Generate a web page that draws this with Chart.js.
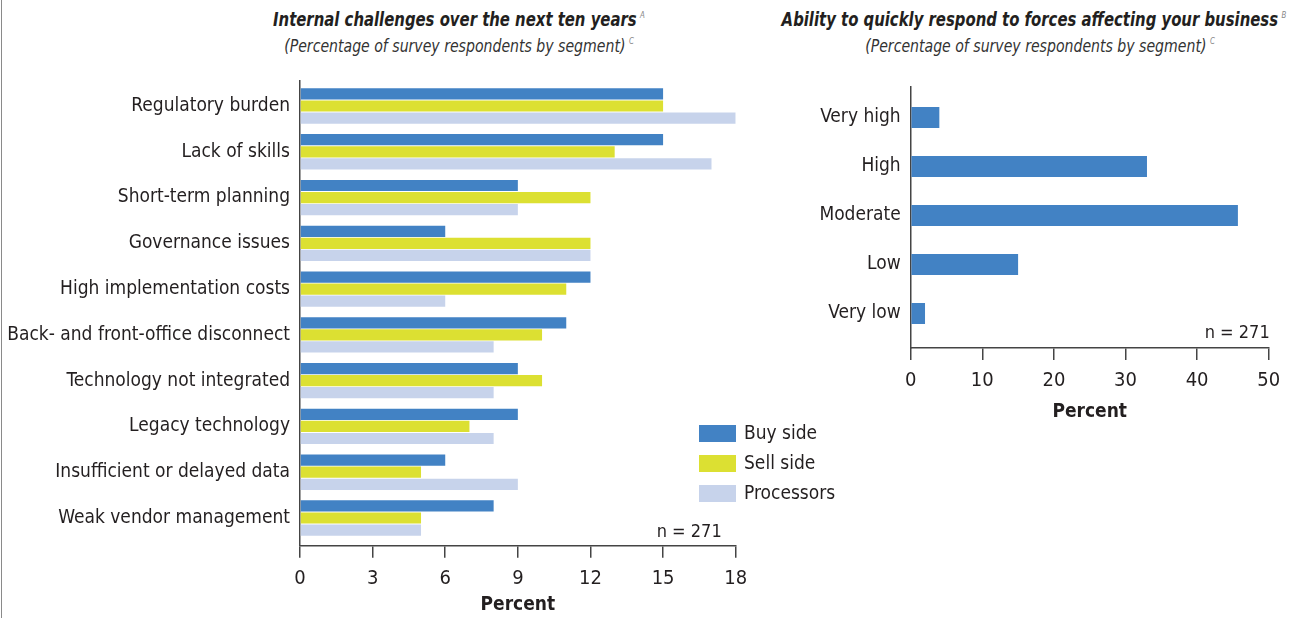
<!DOCTYPE html>
<html>
<head>
<meta charset="utf-8">
<script src="https://cdn.jsdelivr.net/npm/chart.js@4.4.1/dist/chart.umd.min.js"></script>
<style>
  html, body { margin: 0; padding: 0; background: #fff; }
  body { width: 1309px; height: 618px; position: relative; overflow: hidden;
         font-family: 'Liberation Sans Narrow', 'DejaVu Sans Condensed', sans-serif; color: #231f20; }
  .edge { position: absolute; left: 1px; top: 0; width: 1px; height: 618px; background: #8a8a8a; }
  .title { position: absolute; text-align: center; font-weight: bold; font-style: italic;
           font-size: 19px; line-height: 22px; white-space: nowrap; transform: scaleX(0.87); }
  .sub { position: absolute; text-align: center; font-style: italic; font-size: 18px;
         line-height: 22px; color: #333; white-space: nowrap; transform: scaleX(0.87); }
  sup { font-size: 9px; font-weight: normal; color: #888; vertical-align: 8px; margin-left: 4px; }
  canvas { position: absolute; top: 0; }
</style>
</head>
<body>
<div class="edge"></div>
<div class="title" style="left:209px; top:4px; width:500px;">Internal challenges over the next ten years<sup>A</sup></div>
<div class="sub" style="left:209px; top:30px; width:500px;">(Percentage of survey respondents by segment)<sup>C</sup></div>
<div class="title" style="left:734px; top:4px; width:600px;">Ability to quickly respond to forces affecting your business<sup>B</sup></div>
<div class="sub" style="left:790px; top:30px; width:500px;">(Percentage of survey respondents by segment)<sup>C</sup></div>
<canvas id="challenges" width="860" height="618" style="left:0; width:860px; height:618px;"></canvas>
<canvas id="ability" width="539" height="430" style="left:770px; width:539px; height:430px;"></canvas>
<script>
var categories = ['Regulatory burden', 'Lack of skills', 'Short-term planning', 'Governance issues',
    'High implementation costs', 'Back- and front-office disconnect', 'Technology not integrated',
    'Legacy technology', 'Insufficient or delayed data', 'Weak vendor management'];
var buySide = [15, 15, 9, 6, 12, 11, 9, 9, 6, 8];
var sellSide = [15, 13, 12, 12, 11, 10, 10, 7, 5, 5];
var processors = [18, 17, 9, 12, 6, 8, 8, 8, 9, 5];
var seriesNames = ['Buy side', 'Sell side', 'Processors'];
var percentTicks = [0, 3, 6, 9, 12, 15, 18];

var levels = ['Very high', 'High', 'Moderate', 'Low', 'Very low'];
var ability = [4, 33, 45.7, 15, 2];
var abilityTicks = [0, 10, 20, 30, 40, 50];

var sampleSize = 'n = 271';
var axisTitle = 'Percent';

var FONT = "'Liberation Sans Narrow', 'DejaVu Sans Condensed', sans-serif";
var TEXT = '#231f20';
var AXIS = '#444';
var colors = ['#4282c4', '#dce032', '#c7d3eb'];

Chart.defaults.font.family = FONT;
Chart.defaults.color = TEXT;

function toPoints(values) {
    return values.map(function (v, i) { return { x: v, y: i }; });
}

function fixedTicks(list) {
    return function (scale) {
        scale.ticks = list.map(function (v) { return { value: v }; });
    };
}

// n = 271 note, placed relative to the plot area
var notePlugin = {
    id: 'sampleNote',
    afterDraw: function (chart, args, opts) {
        var ctx = chart.ctx, area = chart.chartArea;
        ctx.save();
        ctx.font = '18px ' + FONT;
        ctx.fillStyle = TEXT;
        ctx.textAlign = 'right';
        ctx.textBaseline = 'middle';
        ctx.fillText(opts.text, area.right + opts.dx, area.bottom + opts.dy);
        ctx.restore();
    }
};

// legend boxes sitting inside the left plot
var boxLegend = {
    id: 'boxLegend',
    afterDraw: function (chart) {
        var ctx = chart.ctx;
        ctx.save();
        ctx.font = '19px ' + FONT;
        ctx.textBaseline = 'middle';
        chart.data.datasets.forEach(function (ds, i) {
            var top = 425 + i * 30;
            ctx.fillStyle = ds.backgroundColor;
            ctx.fillRect(699, top, 37, 17);
            ctx.fillStyle = TEXT;
            ctx.fillText(ds.label, 744, top + 9);
        });
        ctx.restore();
    }
};

function valueAxis(ticks, titlePadBottom) {
    return {
        type: 'linear',
        min: ticks[0],
        max: ticks[ticks.length - 1],
        afterBuildTicks: fixedTicks(ticks),
        grid: { display: true, drawOnChartArea: false, drawTicks: true, tickLength: 12, color: AXIS, lineWidth: 1.5 },
        border: { display: true, color: AXIS, width: 1.5 },
        ticks: { font: { size: 20 }, color: TEXT, padding: 9, maxRotation: 0 },
        title: { display: true, text: axisTitle, font: { size: 19, weight: 'bold' }, color: TEXT,
                 padding: { top: 0, bottom: titlePadBottom } }
    };
}

function indexAxis(labels, min, max, width) {
    return {
        type: 'linear',
        reverse: true,
        offset: false,
        bounds: 'data',
        min: min,
        max: max,
        afterBuildTicks: fixedTicks(labels.map(function (l, i) { return i; })),
        afterFit: function (s) { s.width = width; },
        grid: { display: false, drawTicks: false, offset: false },
        border: { display: true, color: AXIS, width: 1.5 },
        ticks: { font: { size: 19 }, color: TEXT, padding: 10,
                 callback: function (v) { return labels[v]; } }
    };
}

var seriesValues = [buySide, sellSide, processors];

new Chart(document.getElementById('challenges'), {
    type: 'bar',
    data: {
        datasets: seriesNames.map(function (name, i) {
            return {
                label: name,
                data: toPoints(seriesValues[i]),
                backgroundColor: colors[i],
                borderWidth: 0,
                categoryPercentage: 0.79,
                barPercentage: 0.93
            };
        })
    },
    options: {
        indexAxis: 'y',
        responsive: false,
        animation: false,
        layout: { padding: { top: 81, right: 124.3, left: 0, bottom: 0 } },
        scales: {
            x: Object.assign(valueAxis(percentTicks, 1.6), {
                afterFit: function (s) { s.height = 72.3; }
            }),
            y: indexAxis(categories, -0.546, 9.605, 300)
        },
        plugins: {
            legend: { display: false },
            tooltip: { enabled: false },
            sampleNote: { text: sampleSize, dx: -14, dy: -13 }
        }
    },
    plugins: [notePlugin, boxLegend]
});

new Chart(document.getElementById('ability'), {
    type: 'bar',
    data: {
        datasets: [{
            label: axisTitle,
            data: toPoints(ability),
            backgroundColor: colors[0],
            borderWidth: 0,
            categoryPercentage: 1,
            barPercentage: 0.43
        }]
    },
    options: {
        indexAxis: 'y',
        responsive: false,
        animation: false,
        layout: { padding: { top: 87, right: 40.3, left: 0, bottom: 0 } },
        scales: {
            x: Object.assign(valueAxis(abilityTicks, 6.9), {
                afterFit: function (s) { s.height = 82; }
            }),
            y: indexAxis(levels, -0.622, 4.704, 140.7)
        },
        plugins: {
            legend: { display: false },
            tooltip: { enabled: false },
            sampleNote: { text: sampleSize, dx: 1, dy: -15 }
        }
    },
    plugins: [notePlugin]
});
</script>
</body>
</html>
